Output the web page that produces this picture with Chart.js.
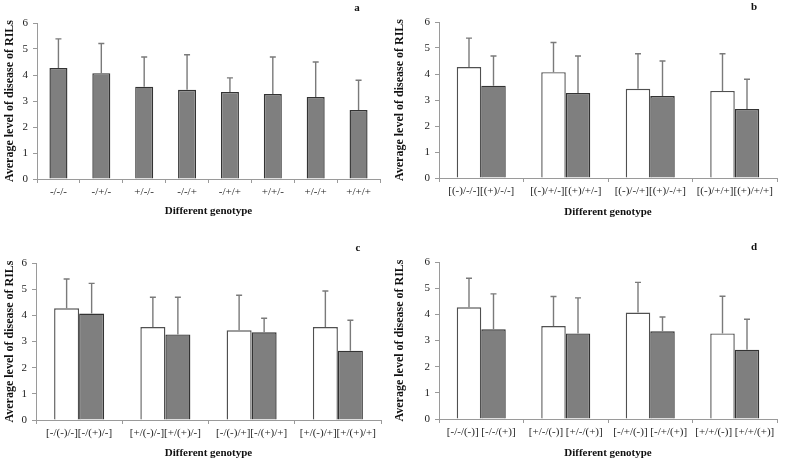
<!DOCTYPE html>
<html>
<head>
<meta charset="utf-8">
<script src="https://cdn.jsdelivr.net/npm/chart.js@4"></script>
<style>
  body { margin: 0; background: #fff; }
  .panel { position: absolute; }
</style>
</head>
<body>
<canvas id="chartA" class="panel" width="393" height="230" style="left:0;top:0"></canvas>
<canvas id="chartB" class="panel" width="397" height="230" style="left:390px;top:0"></canvas>
<canvas id="chartC" class="panel" width="393" height="231" style="left:0;top:230px"></canvas>
<canvas id="chartD" class="panel" width="397" height="231" style="left:390px;top:230px"></canvas>
<script>
// panel a - single genotypes
const genotypesA = ['-/-/-', '-/+/-', '+/-/-', '-/-/+', '-/+/+', '+/+/-', '+/-/+', '+/+/+'];
const meanA = [4.27, 4.07, 3.55, 3.43, 3.35, 3.27, 3.15, 2.65];
const sdA = [1.12, 1.14, 1.14, 1.35, 0.54, 1.42, 1.35, 1.15];

// panel b
const pairsB = ['[(-)/-/-][(+)/-/-]', '[(-)/+/-][(+)/+/-]', '[(-)/-/+][(+)/-/+]', '[(-)/+/+][(+)/+/+]'];
const whiteB = [4.27, 4.07, 3.43, 3.35];
const whiteSdB = [1.11, 1.14, 1.35, 1.43];
const grayB = [3.55, 3.27, 3.15, 2.65];
const graySdB = [1.14, 1.42, 1.35, 1.15];

// panel c
const pairsC = ['[-/(-)/-][-/(+)/-]', '[+/(-)/-][+/(+)/-]', '[-/(-)/+][-/(+)/+]', '[+/(-)/+][+/(+)/+]'];
const whiteC = [4.27, 3.55, 3.43, 3.55];
const whiteSdC = [1.12, 1.14, 1.34, 1.38];
const grayC = [4.07, 3.27, 3.35, 2.65];
const graySdC = [1.15, 1.42, 0.54, 1.16];

// panel d
const pairsD = ['[-/-/(-)] [-/-/(+)]', '[+/-/(-)] [+/-/(+)]', '[-/+/(-)] [-/+/(+)]', '[+/+/(-)] [+/+/(+)]'];
const whiteD = [4.27, 3.55, 4.07, 3.27];
const whiteSdD = [1.11, 1.13, 1.15, 1.42];
const grayD = [3.43, 3.27, 3.35, 2.65];
const graySdD = [1.35, 1.36, 0.55, 1.16];

const yTicks = [0, 1, 2, 3, 4, 5, 6];

const serif = '"Liberation Serif", "Times New Roman", serif';

// draws the plus-only error bars and the panel letter
const errorBars = {
  id: 'errorBars',
  afterDatasetsDraw(chart) {
    const ctx = chart.ctx;
    const y = chart.scales.y;
    chart.data.datasets.forEach((ds, i) => {
      const meta = chart.getDatasetMeta(i);
      meta.data.forEach((bar, j) => {
        const top = y.getPixelForValue(ds.data[j] + ds.errors[j]);
        ctx.save();
        ctx.strokeStyle = '#7a7a7a';
        ctx.lineWidth = 1.4;
        ctx.beginPath();
        ctx.moveTo(bar.x, bar.y);
        ctx.lineTo(bar.x, top);
        ctx.moveTo(bar.x - 3, top);
        ctx.lineTo(bar.x + 3, top);
        ctx.stroke();
        ctx.restore();
      });
    });
    const letter = chart.options.plugins.errorBars.letter;
    ctx.save();
    ctx.font = 'bold 11px ' + serif;
    ctx.fillStyle = '#111';
    ctx.textAlign = 'center';
    ctx.textBaseline = 'middle';
    ctx.fillText(letter, chart.chartArea.right - 23, chart.chartArea.top - 15);
    ctx.restore();
  }
};

function whiteSet(data, errors) {
  return { data: data, errors: errors, backgroundColor: '#ffffff', borderColor: '#505050', borderWidth: 1.4,
           barPercentage: 1.0, categoryPercentage: 0.58 };
}
function graySet(data, errors, pct, cat) {
  return { data: data, errors: errors, backgroundColor: '#7f7f7f', borderColor: '#333333', borderWidth: 1.4,
           barPercentage: pct, categoryPercentage: cat };
}

function makeChart(id, labels, datasets, letter, box) {
  return new Chart(document.getElementById(id), {
    type: 'bar',
    data: { labels: labels, datasets: datasets },
    plugins: [errorBars],
    options: {
      responsive: false,
      animation: false,
      events: [],
      layout: { padding: { top: box.top, right: box.right, left: 0, bottom: 0 } },
      plugins: {
        legend: { display: false },
        tooltip: { enabled: false },
        errorBars: { letter: letter }
      },
      scales: {
        x: {
          afterFit(scale) { scale.height = box.xh; },
          border: { color: '#9a9a9a', width: 1 },
          grid: { drawOnChartArea: false, tickLength: 4, color: '#9a9a9a' },
          ticks: { color: '#222', padding: 3, maxRotation: 0, autoSkip: false, font: { family: serif, size: 11 } },
          title: { display: true, text: 'Different genotype', color: '#111', padding: { top: 0, bottom: box.tp },
                   font: { family: serif, size: 11, weight: 'bold' } }
        },
        y: {
          min: 0,
          max: 6,
          afterFit(scale) { scale.width = box.yw; },
          afterBuildTicks(scale) { scale.ticks = yTicks.map(v => ({ value: v })); },
          border: { color: '#9a9a9a', width: 1 },
          grid: { drawOnChartArea: false, tickLength: 4, color: '#9a9a9a' },
          ticks: { color: '#222', padding: 5, font: { family: serif, size: 11 } },
          title: { display: true, text: 'Average level of disease of RILs', color: '#111', padding: { top: 3, bottom: 0 },
                   font: { family: serif, size: 12, weight: 'bold' } }
        }
      }
    }
  });
}

makeChart('chartA', genotypesA, [graySet(meanA, sdA, 0.84, 0.5)], 'a',
  { top: 23, right: 13, xh: 51, yw: 37, tp: 12 });
makeChart('chartB', pairsB, [whiteSet(whiteB, whiteSdB), graySet(grayB, graySdB, 1.0, 0.58)], 'b',
  { top: 22, right: 10, xh: 52, yw: 49, tp: 11 });
makeChart('chartC', pairsC, [whiteSet(whiteC, whiteSdC), graySet(grayC, graySdC, 1.0, 0.58)], 'c',
  { top: 33, right: 12, xh: 41, yw: 36, tp: 1.5 });
makeChart('chartD', pairsD, [whiteSet(whiteD, whiteSdD), graySet(grayD, graySdD, 1.0, 0.58)], 'd',
  { top: 32, right: 10, xh: 42, yw: 49, tp: 1.5 });
</script>
</body>
</html>
